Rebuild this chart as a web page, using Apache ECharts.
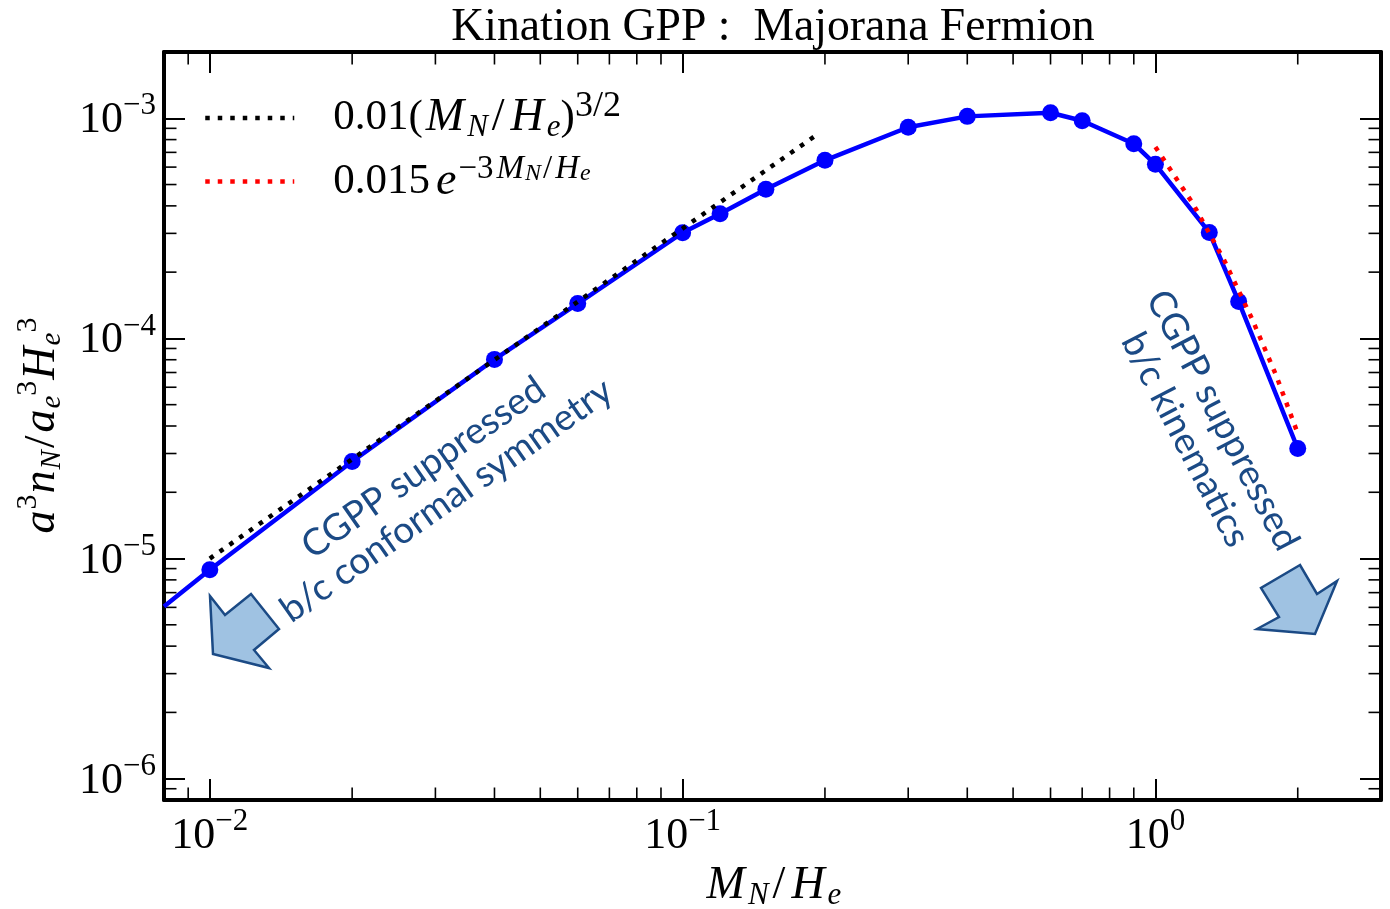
<!DOCTYPE html>
<html><head><meta charset="utf-8">
<style>html,body{margin:0;padding:0;background:#fff}#c{width:1390px;height:909px}</style>
<script src="https://cdn.jsdelivr.net/npm/echarts@6/dist/echarts.min.js"></script>
</head><body><div id="c"></div>
<script>
const xRange = [0.008, 3];
const yRange = [8e-7, 2e-3];
const massRatio = [0.008, 0.01, 0.02, 0.04, 0.06, 0.1, 0.12, 0.15, 0.2, 0.3, 0.4, 0.6, 0.7, 0.9, 1, 1.3, 1.5, 2];
const density = [6.05e-6, 8.9e-6, 2.76e-5, 8.03e-5, 1.44e-4, 3.02e-4, 3.68e-4, 4.76e-4, 6.44e-4, 9.1e-4, 1.02e-3, 1.06e-3, 9.74e-4, 7.66e-4, 6.18e-4, 3.03e-4, 1.47e-4, 3.16e-5];
const powerX = [0.01, 0.195];
const powerY = [1e-5, 8.6e-4];
const expX = [1, 1.2, 1.4, 1.6, 1.8, 2];
const expY = [7.4e-4, 4.1e-4, 2.25e-4, 1.23e-4, 6.8e-5, 3.7e-5];
const xMinorTicks = [0.009, 0.02, 0.03, 0.04, 0.05, 0.06, 0.07, 0.08, 0.09, 0.2, 0.3, 0.4, 0.5, 0.6, 0.7, 0.8, 0.9, 2];
const yMinorTicks = [9e-7, 2e-6, 3e-6, 4e-6, 5e-6, 6e-6, 7e-6, 8e-6, 9e-6, 2e-5, 3e-5, 4e-5, 5e-5, 6e-5, 7e-5, 8e-5, 9e-5, 2e-4, 3e-4, 4e-4, 5e-4, 6e-4, 7e-4, 8e-4, 9e-4, 2e-3];
const titleText = 'Kination GPP :  Majorana Fermion';
const powerName = '0.01(MN/He)^(3/2)';
const expName = '0.015 exp(-3MN/He)';
const noteLeft = 'CGPP suppressed\nb/c conformal symmetry';
const noteRight = 'CGPP suppressed\nb/c kinematics';

const SERIF = '"Liberation Serif"';
const BLUE = '#0000ff';
const NOTE = '#1b4a85';
const L = 58;
const base = {fontFamily: SERIF, color: '#000'};
const mathRich = {
  r: {...base, fontSize: 43, lineHeight: L},
  i: {...base, fontSize: 46, fontStyle: 'italic', lineHeight: L, padding: [0, 3, 0, 3]},
  j: {...base, fontSize: 46, fontStyle: 'italic', lineHeight: L, padding: [0, 1, 0, 1]},
  e: {...base, fontSize: 46, fontStyle: 'italic', lineHeight: L, padding: [0, 0, 0, 6]},
  s: {...base, fontSize: 46, lineHeight: L, padding: [0, 3, 0, 4]},
  t: {...base, fontSize: 45, lineHeight: L, padding: [0, 2, 0, 2]},
  sb: {...base, fontSize: 31, fontStyle: 'italic', height: 38, verticalAlign: 'bottom'},
  sq: {...base, fontSize: 29, fontStyle: 'italic', height: 38, verticalAlign: 'bottom'},
  sp: {...base, fontSize: 36, verticalAlign: 'top'},
  up: {...base, fontSize: 30, verticalAlign: 'top'},
  spi: {...base, fontSize: 33, fontStyle: 'italic', verticalAlign: 'top', padding: [0, 1, 0, 1]},
  sps: {...base, fontSize: 33, verticalAlign: 'top', padding: [0, 2, 0, 2]},
  sbs: {...base, fontSize: 24, fontStyle: 'italic', height: 42, verticalAlign: 'top'},
  gap: {width: 34, lineHeight: 10}
};
const labelRich = {
  m: {...base, fontSize: 44, lineHeight: 60},
  e: {...base, fontSize: 31, verticalAlign: 'top'}
};
const exponentLabel = v => {
  const p = Math.log10(v), k = Math.round(p);
  if (Math.abs(p - k) > 1e-6) return '';
  return k === 0 ? '{m|10}{e|0}' : '{m|10}{e|\u2212' + Math.abs(k) + '}';
};
const frameLine = {show: true, onZero: false, lineStyle: {color: '#000', width: 4}};
const majorTick = {show: true, inside: true, length: 21, lineStyle: {color: '#000', width: 2}};
const mirror = {
  type: 'log', logBase: 10,
  axisLine: frameLine, axisTick: majorTick,
  axisLabel: {show: false}, splitLine: {show: false}, minorTick: {show: false}
};
const tickSeries = (data, horizontal) => ({
  type: 'custom', silent: true, z: 3, clip: false, data,
  encode: {x: 0, y: 1}, tooltip: {show: false},
  renderItem: (params, api) => {
    const p = api.coord([api.value(0), api.value(1)]);
    const c = params.coordSys, len = 12.5, st = {stroke: '#000', lineWidth: 1.6};
    const seg = horizontal
      ? [[p[0], c.y + c.height, p[0], c.y + c.height - len], [p[0], c.y, p[0], c.y + len]]
      : [[c.x, p[1], c.x + len, p[1]], [c.x + c.width, p[1], c.x + c.width - len, p[1]]];
    return {type: 'group', children: seg.map(s => ({type: 'line', shape: {x1: s[0], y1: s[1], x2: s[2], y2: s[3]}, style: st}))};
  }
});

const chart = echarts.init(document.getElementById('c'), null, {renderer: 'canvas'});
chart.setOption({
  animation: false,
  backgroundColor: '#fff',
  title: {text: titleText, left: 768, textAlign: 'center', top: 0, textStyle: {fontFamily: SERIF, fontWeight: 'normal', fontSize: 45.7, color: '#000'}},
  grid: {left: 164, right: 9, top: 52, bottom: 109, outerBoundsMode: 'none'},
  legend: {
    left: 203, top: 89, padding: 0, orient: 'vertical', itemWidth: 89, itemHeight: 4, itemGap: 9,
    data: [powerName, expName], selectedMode: false,
    itemStyle: {opacity: 0},
    lineStyle: {width: 4.5, type: [4.5, 8]},
    textStyle: {rich: mathRich},
    formatter: n => n === powerName
      ? '{gap|}{r|0.01(}{i|M}{sb|N}{s|/}{i|H}{sb|e}{r|)}{sp|3/2}'
      : '{gap|}{r|0.015}{e|e}{sps|\u22123}{spi|M}{sbs|N}{sps|/}{spi|H}{sbs|e}'
  },
  xAxis: [
    {
      type: 'log', logBase: 10, min: xRange[0], max: xRange[1], position: 'bottom',
      name: '{i|M}{sb|N}{s|/}{i|H}{sb|e}', nameLocation: 'middle', nameGap: 56,
      nameTextStyle: {rich: mathRich},
      axisLine: frameLine, axisTick: majorTick, splitLine: {show: false},
      axisLabel: {margin: 6, formatter: exponentLabel, rich: labelRich, showMinLabel: false, showMaxLabel: false}
    },
    Object.assign({}, mirror, {min: xRange[0], max: xRange[1], position: 'top'})
  ],
  yAxis: [
    {
      type: 'log', logBase: 10, min: yRange[0], max: yRange[1], position: 'left',
      name: '{j|a}{up|3}{j|n}{sq|N}{t|/}{j|a}{sq|e}{up|3}{j|H}{sq|e}{up|3}', nameLocation: 'middle', nameGap: 93, nameRotate: 90,
      nameTextStyle: {rich: mathRich},
      axisLine: frameLine, axisTick: majorTick, splitLine: {show: false},
      axisLabel: {margin: 8, padding: [5, 0, 0, 0], formatter: exponentLabel, rich: labelRich, showMinLabel: false, showMaxLabel: false}
    },
    Object.assign({}, mirror, {min: yRange[0], max: yRange[1], position: 'right'})
  ],
  series: [
    {
      type: 'line', name: 'Majorana fermion', z: 4, showSymbol: true, symbol: 'circle', symbolSize: 17,
      lineStyle: {color: BLUE, width: 4.5}, itemStyle: {color: BLUE},
      data: massRatio.map((x, i) => i === 0 ? {value: [x, density[i]], symbol: 'none'} : [x, density[i]])
    },
    {
      type: 'line', name: powerName, z: 5, symbol: 'none',
      lineStyle: {color: '#000', width: 4.5, type: [4.5, 7.5]}, itemStyle: {color: '#000'},
      data: powerX.map((x, i) => [x, powerY[i]])
    },
    {
      type: 'line', name: expName, z: 5, symbol: 'none',
      lineStyle: {color: '#ff0000', width: 4.5, type: [4.5, 7.5]}, itemStyle: {color: '#ff0000'},
      data: expX.map((x, i) => [x, expY[i]])
    },
    tickSeries(xMinorTicks.map(v => [v, yRange[0]]), true),
    tickSeries(yMinorTicks.map(v => [xRange[0], v]), false)
  ],
  graphic: [
    {type: 'text', z: 10, x: 435, y: 484, rotation: 35 * Math.PI / 180,
      style: {text: noteLeft, fontFamily: 'Lato', fontWeight: 400, fontSize: 37, lineHeight: 40, fill: NOTE, align: 'center', verticalAlign: 'middle'}},
    {type: 'text', z: 10, x: 1204, y: 430, rotation: -62.5 * Math.PI / 180,
      style: {text: noteRight, fontFamily: 'Lato', fontWeight: 400, fontSize: 37, lineHeight: 42, fill: NOTE, align: 'center', verticalAlign: 'middle'}},
    {type: 'polygon', z: 10, shape: {points: [[210, 596], [225, 615], [251, 594], [279, 629], [254, 650], [269, 668], [213, 654]]},
      style: {fill: '#9fc2e2', stroke: NOTE, lineWidth: 2.5}},
    {type: 'polygon', z: 10, shape: {points: [[1300, 565], [1261, 588], [1279, 617], [1257, 629], [1315, 634], [1337, 581], [1317, 594]]},
      style: {fill: '#9fc2e2', stroke: NOTE, lineWidth: 2.5}}
  ]
});
</script></body></html>
